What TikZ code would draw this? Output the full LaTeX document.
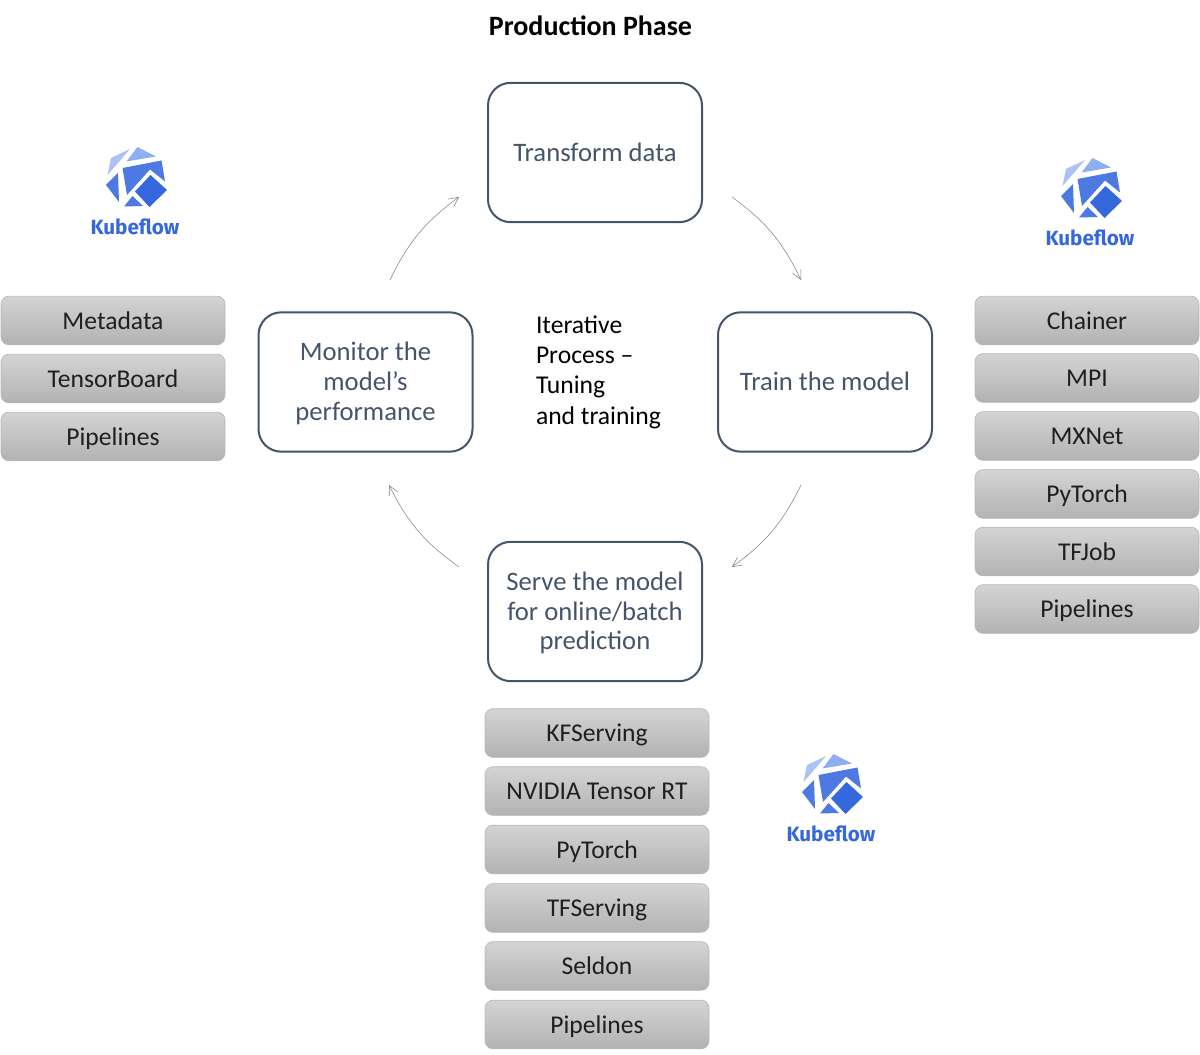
\documentclass[tikz,border=0pt]{standalone}
\usepackage{fontspec}
\setmainfont{Carlito}
\newfontfamily\kffont{Fira Sans}
\usetikzlibrary{arrows.meta}
\definecolor{slate}{HTML}{44546A}
\definecolor{kfdark}{HTML}{3567DD}
\definecolor{kfmid}{HTML}{4C79E2}
\definecolor{kflight}{HTML}{8DAEF0}
\tikzset{
  every picture/.style={line width=0.75pt},
  phase/.style={draw=slate,line width=1.5pt,rounded corners=17pt,minimum width=160.5pt,minimum height=104.5pt,
    align=center,text=slate,inner sep=0pt,font=\fontsize{20}{22.2}\selectfont},
  tool/.style={draw=black!28,line width=0.5pt,rounded corners=6pt,minimum width=168pt,minimum height=36.5pt,
    top color=black!17,bottom color=black!30,inner sep=0pt,text height=13pt,text depth=0.2pt,text=black!88,
    font=\fontsize{19.2}{22}\selectfont},
  cycle/.style={draw=black!50,line width=0.4pt,-{Straight Barb[length=7pt,width=7pt,line width=0.4pt]}},
  kubeflow/.pic={
    \fill[kflight] (-8.5,-18.5) -- (2.5,-33) -- (21,-23.5) -- cycle;
    \fill[kflight!75] (-27.5,-5) -- (-24,-22) -- (-5,-31) -- (-17,-17) -- cycle;
    \fill[kfmid] (-29,5) -- (-17,-7) -- (-16,22) -- cycle;
    \fill[kfmid] (-12.5,-12) -- (26.5,-19.5) -- (30,1.5) -- (15,-10.5) -- (-8,15) -- cycle;
    \fill[kfdark] (15.5,-5) -- (32,10) -- (14.5,27) -- (0,11.5) -- cycle;
    \fill[kfmid] (-11,26.5) -- (-2.5,16) -- (8,26) -- cycle;
    \node[text=kfdark,font=\kffont\bfseries\fontsize{15.5}{20}\selectfont] (-word) at (0,47) {Kubeflow};
  }
}
\begin{document}
\begin{tikzpicture}[x=0.75pt,y=-0.75pt]
\useasboundingbox (0,0) rectangle (1200,1055);
\node[font=\bfseries\fontsize{21}{24}\selectfont] (title) at (590.5,26) {Production Phase};

\node[phase] (transform) at (595,152.5) {\raisebox{0.7pt}{Transform data}};
\node[phase] (train) at (825,382) {\raisebox{0.7pt}{Train the model}};
\node[phase] (serve) at (595,611.5) {\rule{0pt}{16pt}Serve the model\\for online/batch\\prediction};
\node[phase] (monitor) at (365.5,382) {\rule{0pt}{16pt}Monitor the\\model’s\\performance};
\node[align=left,anchor=west,inner sep=0pt,font=\fontsize{19.2}{22.7}\selectfont] (iterative) at (535.5,372) {Iterative\\Process --\\Tuning\\and training};

\coordinate (monitorout) at (390,280);
\coordinate (transformin) at (459,197);
\coordinate (transformout) at (732,197);
\coordinate (trainin) at (801,280);
\coordinate (trainout) at (801,485);
\coordinate (servein) at (732,567);
\coordinate (serveout) at (459,567);
\coordinate (monitorin) at (389,485);
\draw[cycle] (monitorout) to[bend left=14] (transformin);
\draw[cycle] (transformout) to[bend left=14] (trainin);
\draw[cycle] (trainout) to[bend left=14] (servein);
\draw[cycle] (serveout) to[bend left=14] (monitorin);

\pic (kfleft) at (135,180) {kubeflow};
\pic (kfright) at (1090,191) {kubeflow};
\pic (kfserve) at (831,787) {kubeflow};

\node[tool] (metadata) at (113,320.5) {Metadata};
\node[tool] (tensorboard) at (113,378.5) {TensorBoard};
\node[tool] (pipelinesa) at (113,436.5) {Pipelines};

\node[tool] (chainer) at (1087,320.5) {Chainer};
\node[tool] (mpi) at (1087,378) {MPI};
\node[tool] (mxnet) at (1087,436) {MXNet};
\node[tool] (pytorcha) at (1087,494) {PyTorch};
\node[tool] (tfjob) at (1087,551.5) {TFJob};
\node[tool] (pipelinesb) at (1087,609) {Pipelines};

\node[tool] (kfserving) at (597,733) {KFServing};
\node[tool] (nvidia) at (597,791) {NVIDIA Tensor RT};
\node[tool] (pytorchb) at (597,849.5) {PyTorch};
\node[tool] (tfserving) at (597,908) {TFServing};
\node[tool] (seldon) at (597,966) {Seldon};
\node[tool] (pipelinesc) at (597,1024.5) {Pipelines};
\end{tikzpicture}
\end{document}
